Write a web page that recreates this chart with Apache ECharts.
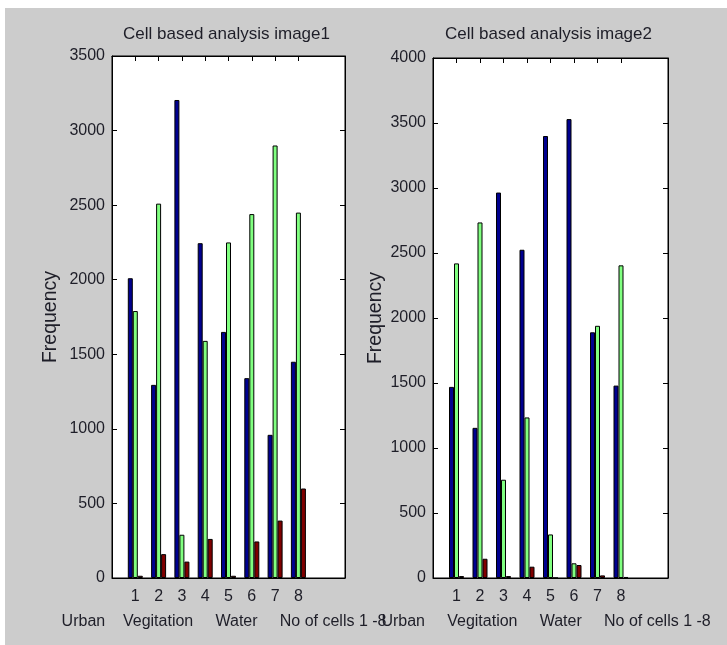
<!DOCTYPE html>
<html>
<head>
<meta charset="utf-8">
<script src="https://cdn.jsdelivr.net/npm/echarts@6/dist/echarts.min.js"></script>
<style>
html,body{margin:0;padding:0;background:#fff;}
#c{width:727px;height:645px;}
</style>
</head>
<body>
<div id="c"></div>
<script>
// ---- data ----
var categories = [1, 2, 3, 4, 5, 6, 7, 8];
var titles = ['Cell based analysis image1', 'Cell based analysis image2'];
var xLabels = ['Urban    Vegitation     Water     No of cells 1 -8  ',
               'Urban     Vegitation     Water     No of cells 1 -8  '];
var yLabel = 'Frequency';
var yMax = [3500, 4000];
var yStep = 500;
// image 1
var img1Urban = [2010, 1295, 3205, 2245, 1650, 1340, 960, 1450];
var img1Veg   = [1790, 2510, 290, 1590, 2250, 2440, 2900, 2450];
var img1Water = [15, 160, 110, 262, 15, 245, 385, 600];
// image 2
var img2Urban = [1470, 1155, 2965, 2525, 3400, 3530, 1890, 1480];
var img2Veg   = [2420, 2735, 756, 1235, 335, 113, 1940, 2405];
var img2Water = [15, 148, 15, 87, 0, 100, 20, 8];

var FONT = "'Liberation Sans',Arial,sans-serif";
var TXT = '#1e1e28';
var colors = ['#00008f', '#80ff80', '#800000'];

var grids = [
  {left: 112, top: 56, width: 233, height: 522},
  {left: 433, top: 58, width: 235, height: 520}
];
var nameGaps = [51, 47];

function pairs(vals){ return categories.map(function(c,i){ return [c, vals[i]]; }); }
function plain(v){ return String(v); }

var option = {
  animation: false,
  backgroundColor: '#ffffff',
  graphic: [
    {type:'rect', shape:{x:5, y:8, width:722, height:637}, style:{fill:'#cccccc'}, z:-10, silent:true}
  ],
  grid: grids.map(function(g){
    return {left:g.left, top:g.top, width:g.width, height:g.height, show:true,
            backgroundColor:'#ffffff', borderColor:'#000', borderWidth:1,
            containLabel:false, outerBoundsMode:'none'};
  }),
  xAxis: [], yAxis: [], series: []
};

titles.forEach(function(t, k){
  var g = grids[k];
  option.graphic.push({type:'text', x: g.left + g.width/2 - 2, y: 34, z: 10,
    style:{text:t, fill:TXT, font:'17px ' + FONT, textAlign:'center', textVerticalAlign:'middle'}});
});

[0,1].forEach(function(k){
  option.xAxis.push({
    type:'value', gridIndex:k, min:0, max:10, interval:1, position:'bottom',
    name: xLabels[k], nameLocation:'middle', nameGap: 36, nameMoveOverlap:false,
    nameTextStyle:{fontFamily:FONT, fontSize:16, color:TXT},
    splitLine:{show:false},
    axisLine:{show:true, onZero:false, lineStyle:{color:'#000', width:1}},
    axisTick:{show:true, inside:true, length:5, customValues:categories, lineStyle:{color:'#000'}},
    axisLabel:{show:true, margin:11, customValues:categories, fontFamily:FONT, fontSize:16, color:TXT, formatter: plain}
  });
  option.xAxis.push({
    type:'value', gridIndex:k, min:0, max:10, interval:1, position:'top',
    splitLine:{show:false},
    axisLine:{show:true, onZero:false, lineStyle:{color:'#000', width:1}},
    axisTick:{show:true, inside:true, length:5, customValues:categories, lineStyle:{color:'#000'}},
    axisLabel:{show:false}
  });
  option.yAxis.push({
    type:'value', gridIndex:k, min:0, max:yMax[k], interval:yStep, position:'left',
    name: yLabel, nameLocation:'middle', nameGap: nameGaps[k], nameRotate: 90, nameMoveOverlap:false,
    nameTextStyle:{fontFamily:FONT, fontSize:19.5, color:TXT},
    splitLine:{show:false},
    axisLine:{show:true, onZero:false, lineStyle:{color:'#000', width:1}},
    axisTick:{show:true, inside:true, length:5, lineStyle:{color:'#000'}},
    axisLabel:{show:true, margin:7, fontFamily:FONT, fontSize:16, color:TXT, formatter: plain}
  });
  option.yAxis.push({
    type:'value', gridIndex:k, min:0, max:yMax[k], interval:yStep, position:'right',
    splitLine:{show:false},
    axisLine:{show:true, onZero:false, lineStyle:{color:'#000', width:1}},
    axisTick:{show:true, inside:true, length:5, lineStyle:{color:'#000'}},
    axisLabel:{show:false}
  });
});

var seriesSets = [[img1Urban, img1Veg, img1Water], [img2Urban, img2Veg, img2Water]];
var seriesNames = ['Urban', 'Vegitation', 'Water'];
seriesSets.forEach(function(set, k){
  set.forEach(function(vals, j){
    option.series.push({
      type:'bar', name: seriesNames[j] + ' ' + (k+1),
      xAxisIndex: k*2, yAxisIndex: k*2,
      data: pairs(vals),
      barWidth: 5, barGap: '0%',
      itemStyle:{color: colors[j], borderColor:'#000', borderWidth:1},
      z: 2
    });
  });
});

var chart = echarts.init(document.getElementById('c'), null, {renderer:'canvas'});
chart.setOption(option);
</script>
</body>
</html>
